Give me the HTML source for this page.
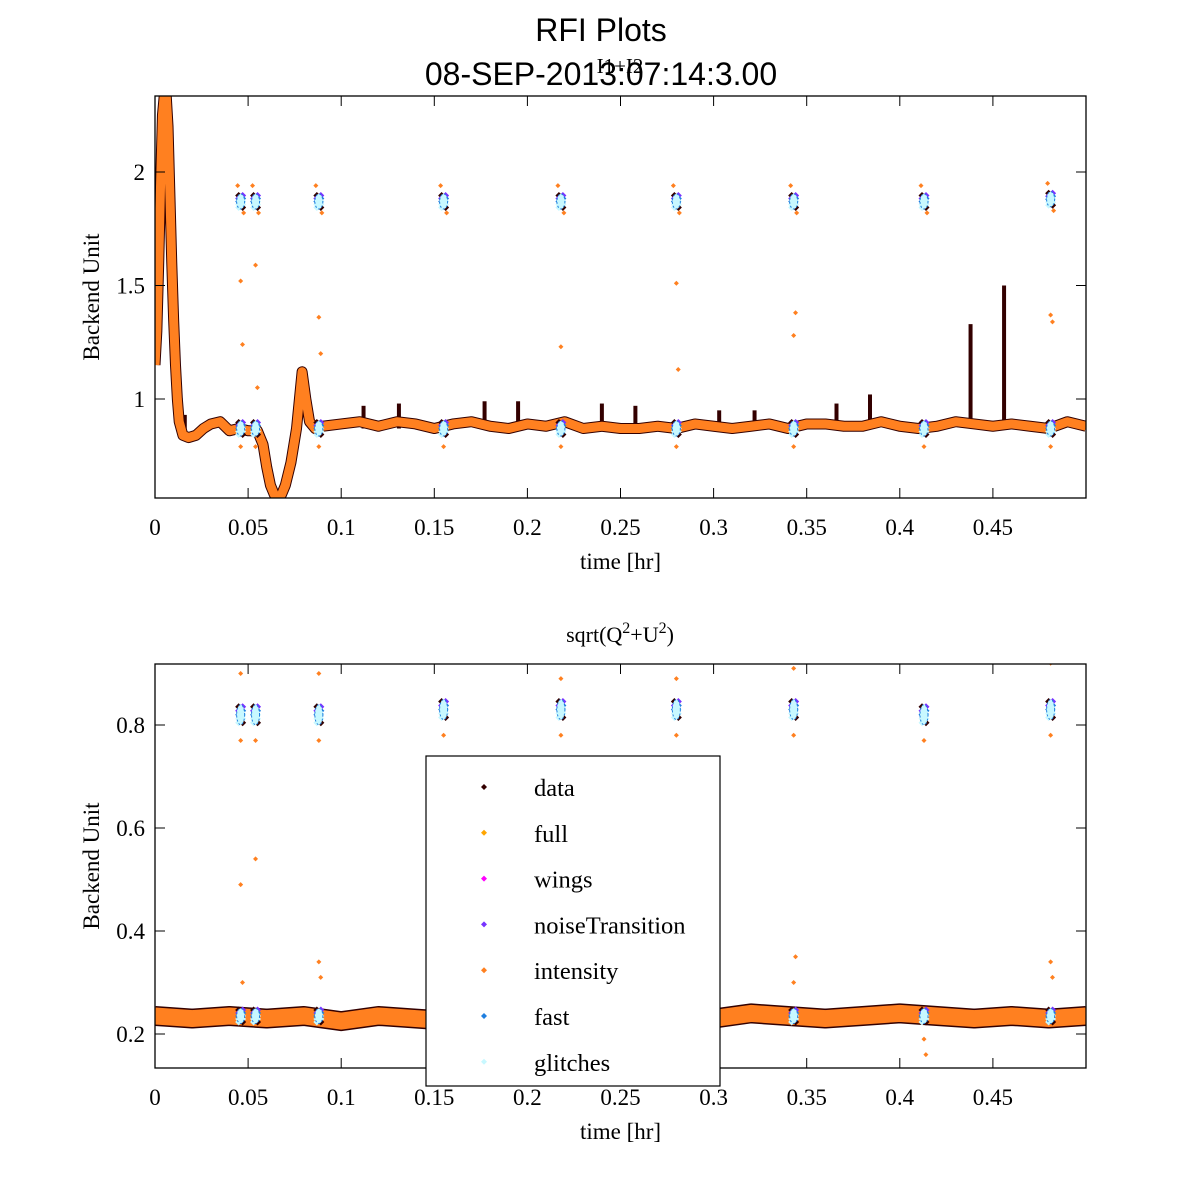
<!DOCTYPE html>
<html><head><meta charset="utf-8"><style>
html,body{margin:0;padding:0;background:#fff;}
svg{display:block;}
text{font-family:"Liberation Serif",serif;fill:#000;}
.sans{font-family:"Liberation Sans",sans-serif;}
</style></head><body>
<svg id="fig" width="1200" height="1200" viewBox="0 0 1200 1200" xmlns="http://www.w3.org/2000/svg">
<rect width="1200" height="1200" fill="#fff"/>
<text class="sans" x="601" y="41" font-size="32" text-anchor="middle">RFI Plots</text>
<text class="sans" x="601" y="85" font-size="32" text-anchor="middle">08-SEP-2013:07:14:3.00</text>
<text x="620" y="73" font-size="21" text-anchor="middle">I1+I2</text>
<text x="620" y="642" font-size="22" text-anchor="middle">sqrt(Q<tspan dy="-9" font-size="16">2</tspan><tspan dy="9">+U</tspan><tspan dy="-9" font-size="16">2</tspan><tspan dy="9">)</tspan></text>
<g id="top"></g>
<g id="bot"></g>
</svg>
<script>
// ---- data ----
const xTicks = [0,0.05,0.1,0.15,0.2,0.25,0.3,0.35,0.4,0.45];
const xTickLabels = ["0","0.05","0.1","0.15","0.2","0.25","0.3","0.35","0.4","0.45"];
const topYTicks = [1,1.5,2];
const topYTickLabels = ["1","1.5","2"];
const botYTicks = [0.2,0.4,0.6,0.8];
const botYTickLabels = ["0.2","0.4","0.6","0.8"];
const topTimes = [0,0.001,0.002,0.003,0.004,0.005,0.006,0.007,0.008,0.009,0.01,0.011,0.012,0.013,0.015,0.018,0.022,0.026,0.03,0.035,0.04,0.045,0.05,0.055,0.058,0.06,0.062,0.064,0.066,0.068,0.07,0.073,0.076,0.079,0.081,0.083,0.086,0.09,0.1,0.11,0.12,0.13,0.14,0.15,0.16,0.17,0.18,0.19,0.2,0.21,0.22,0.23,0.24,0.25,0.26,0.27,0.28,0.29,0.3,0.31,0.32,0.33,0.34,0.35,0.36,0.37,0.38,0.39,0.4,0.41,0.42,0.43,0.44,0.45,0.46,0.47,0.48,0.49,0.5];
const topValues = [1.15,1.3,1.6,1.95,2.25,2.34,2.34,2.2,1.9,1.6,1.35,1.15,1.0,0.9,0.84,0.83,0.84,0.87,0.89,0.9,0.86,0.87,0.86,0.86,0.8,0.7,0.62,0.58,0.57,0.58,0.62,0.72,0.87,1.12,1.0,0.9,0.87,0.88,0.89,0.9,0.88,0.9,0.89,0.87,0.89,0.9,0.88,0.87,0.89,0.88,0.9,0.87,0.88,0.87,0.87,0.88,0.87,0.89,0.88,0.87,0.88,0.89,0.87,0.89,0.89,0.88,0.88,0.9,0.88,0.87,0.88,0.9,0.89,0.88,0.89,0.88,0.87,0.9,0.88];
const spikeTimes = [0.016,0.112,0.131,0.177,0.195,0.24,0.258,0.303,0.322,0.366,0.384,0.438,0.456];
const spikeValues = [0.93,0.97,0.98,0.99,0.99,0.98,0.97,0.95,0.95,0.98,1.02,1.33,1.5];
const clusterTimes = [0.046,0.054,0.088,0.155,0.218,0.28,0.343,0.413,0.481];
const topClusterValues = [1.87,1.87,1.87,1.87,1.87,1.87,1.87,1.87,1.88];
const botClusterValues = [0.82,0.82,0.82,0.83,0.83,0.83,0.83,0.82,0.83];
const topOutlierTimes = [0.046,0.047,0.054,0.055,0.088,0.089,0.218,0.28,0.281,0.343,0.344,0.481,0.482];
const topOutlierValues = [1.52,1.24,1.59,1.05,1.36,1.2,1.23,1.51,1.13,1.28,1.38,1.37,1.34];
const botTimes = [0,0.02,0.04,0.06,0.08,0.1,0.12,0.14,0.16,0.18,0.2,0.22,0.24,0.26,0.28,0.3,0.32,0.34,0.36,0.38,0.4,0.42,0.44,0.46,0.48,0.5];
const botValues = [0.235,0.23,0.235,0.23,0.235,0.225,0.235,0.23,0.225,0.23,0.235,0.23,0.235,0.23,0.235,0.23,0.24,0.235,0.23,0.235,0.24,0.235,0.23,0.235,0.23,0.235];
const botOutlierTimes = [0.046,0.047,0.054,0.088,0.089,0.343,0.344,0.481,0.482,0.413,0.414,0.046,0.088,0.218,0.28,0.343,0.481];
const botOutlierValues = [0.49,0.3,0.54,0.34,0.31,0.3,0.35,0.34,0.31,0.19,0.16,0.9,0.9,0.89,0.89,0.91,0.92];

const NS="http://www.w3.org/2000/svg";
function mk(tag,attrs,parent){const e=document.createElementNS(NS,tag);for(const k in attrs)e.setAttribute(k,attrs[k]);parent.appendChild(e);return e;}
const X0=155,X1=1086;
function xs(t){return X0+(t/0.5)*(X1-X0);}
function ysTop(v){return 399-(v-1)*227;}
function ysBot(v){return 1034-(v-0.2)*515;}

function axes(g,yTop,yBot,ys,yt,ytl,name){
  const ax=mk('g',{},g);
  
  
  xTicks.forEach((t,i)=>{
    const x=xs(t);
    mk('line',{x1:x,y1:yBot,x2:x,y2:yBot-10,stroke:'#000','stroke-width':1},ax);
    mk('line',{x1:x,y1:yTop,x2:x,y2:yTop+10,stroke:'#000','stroke-width':1},ax);
    const tx=mk('text',{x:x,y:yBot+37,'font-size':23,'text-anchor':'middle'},ax);
    tx.textContent=xTickLabels[i];
    
    
  });
  yt.forEach((v,i)=>{
    const y=ys(v);
    mk('line',{x1:X0,y1:y,x2:X0+10,y2:y,stroke:'#000'},ax);
    mk('line',{x1:X1,y1:y,x2:X1-10,y2:y,stroke:'#000'},ax);
    const tx=mk('text',{x:X0-10,y:y+8,'font-size':23,'text-anchor':'end'},ax);
    tx.textContent=ytl[i];
    
    
  });
  const fr=mk('rect',{x:X0,y:yTop,width:X1-X0,height:yBot-yTop,fill:'none',stroke:'#000','stroke-width':1.3},ax);
  
  
  const xl=mk('text',{x:(X0+X1)/2,y:yBot+71,'font-size':23,'text-anchor':'middle'},ax);
  xl.textContent='time [hr]';
  
  
  const cy=(yTop+yBot)/2;
  const yl=mk('text',{x:99,y:cy,'font-size':23,'text-anchor':'middle',transform:'rotate(-90 99 '+cy+')'},ax);
  yl.textContent='Backend Unit';
  
  
}
function diamond(g,x,y,c,r){mk('path',{d:`M${x} ${y-r}L${x+r} ${y}L${x} ${y+r}L${x-r} ${y}Z`,fill:c},g);}
function cluster(g,x,y,dy){
  const cols=['#330000','#7733ff','#1f7fdf','#c8f8ff','#c8f8ff'];
  for(let k=-2;k<=2;k++){diamond(g,x-2,y+k*dy,cols[(k+2)%5],3.5);diamond(g,x+2,y+k*dy,cols[(k+3)%5],3.5);}
  mk('ellipse',{cx:x,cy:y,rx:4,ry:dy*2.5,fill:'#c8f8ff',stroke:'#1f7fdf','stroke-width':1,'stroke-dasharray':'2 2'},g);
}

// top panel
const gt=document.getElementById('top');
const clipT=mk('clipPath',{id:'ct'},gt);mk('rect',{x:X0,y:96,width:X1-X0,height:402},clipT);
const pt=mk('g',{'clip-path':'url(#ct)'},gt);


const ptsT=topTimes.map((t,i)=>xs(t)+','+ysTop(topValues[i])).join(' ');
const dT=mk('polyline',{points:ptsT,fill:'none',stroke:'#330000','stroke-width':11,'stroke-linejoin':'round'},pt);


spikeTimes.forEach((t,i)=>{mk('line',{x1:xs(t),y1:ysTop(0.87),x2:xs(t),y2:ysTop(spikeValues[i]),stroke:'#330000','stroke-width':4},pt);});
const oT=mk('polyline',{points:ptsT,fill:'none',stroke:'#ff8020','stroke-width':9,'stroke-linejoin':'round'},pt);


clusterTimes.forEach((t,i)=>{
  cluster(pt,xs(t),ysTop(topClusterValues[i]),3);
  diamond(pt,xs(t)-3,ysTop(topClusterValues[i]+0.07),'#ff8020',2.5);
  diamond(pt,xs(t)+3,ysTop(topClusterValues[i]-0.05),'#ff8020',2.5);
  cluster(pt,xs(t),ysTop(0.87),3);
  diamond(pt,xs(t),ysTop(0.79),'#ff8020',2.5);
});
topOutlierTimes.forEach((t,i)=>diamond(pt,xs(t),ysTop(topOutlierValues[i]),'#ff8020',2.5));
axes(gt,96,498,ysTop,topYTicks,topYTickLabels,'top');

// bottom panel
const BY0=664,BY1=1068;
const gb=document.getElementById('bot');
const clipB=mk('clipPath',{id:'cb'},gb);mk('rect',{x:X0,y:BY0,width:X1-X0,height:BY1-BY0},clipB);
const pb=mk('g',{'clip-path':'url(#cb)'},gb);


const ptsB=botTimes.map((t,i)=>xs(t)+','+ysBot(botValues[i])).join(' ');
const dB=mk('polyline',{points:ptsB,fill:'none',stroke:'#330000','stroke-width':20,'stroke-linejoin':'round'},pb);


const oB=mk('polyline',{points:ptsB,fill:'none',stroke:'#ff8020','stroke-width':17,'stroke-linejoin':'round'},pb);


clusterTimes.forEach((t,i)=>{
  cluster(pb,xs(t),ysBot(botClusterValues[i]),4);
  diamond(pb,xs(t),ysBot(botClusterValues[i]-0.05),'#ff8020',2.5);
  cluster(pb,xs(t),ysBot(0.235),3);
});
botOutlierTimes.forEach((t,i)=>diamond(pb,xs(t),ysBot(botOutlierValues[i]),'#ff8020',2.5));
axes(gb,BY0,BY1,ysBot,botYTicks,botYTickLabels,'bottom');

// legend
const legNames=['data','full','wings','noiseTransition','intensity','fast','glitches'];
const legColors=['#330000','#ffa500','#ff00ff','#7733ff','#ff8020','#1f7fdf','#c8f8ff'];
const lg=mk('g',{},document.getElementById('fig'));


mk('rect',{x:426,y:756,width:294,height:330,fill:'#fff',stroke:'#000','stroke-width':1.2},lg);
legNames.forEach((n,i)=>{
  const y=788+i*45.8;
  const e=mk('g',{},lg);
  
  
  diamond(e,484,y-1,legColors[i],3);
  const t=mk('text',{x:534,y:y+8,'font-size':24.5},e);
  t.textContent=n;
});
</script>
</body></html>
